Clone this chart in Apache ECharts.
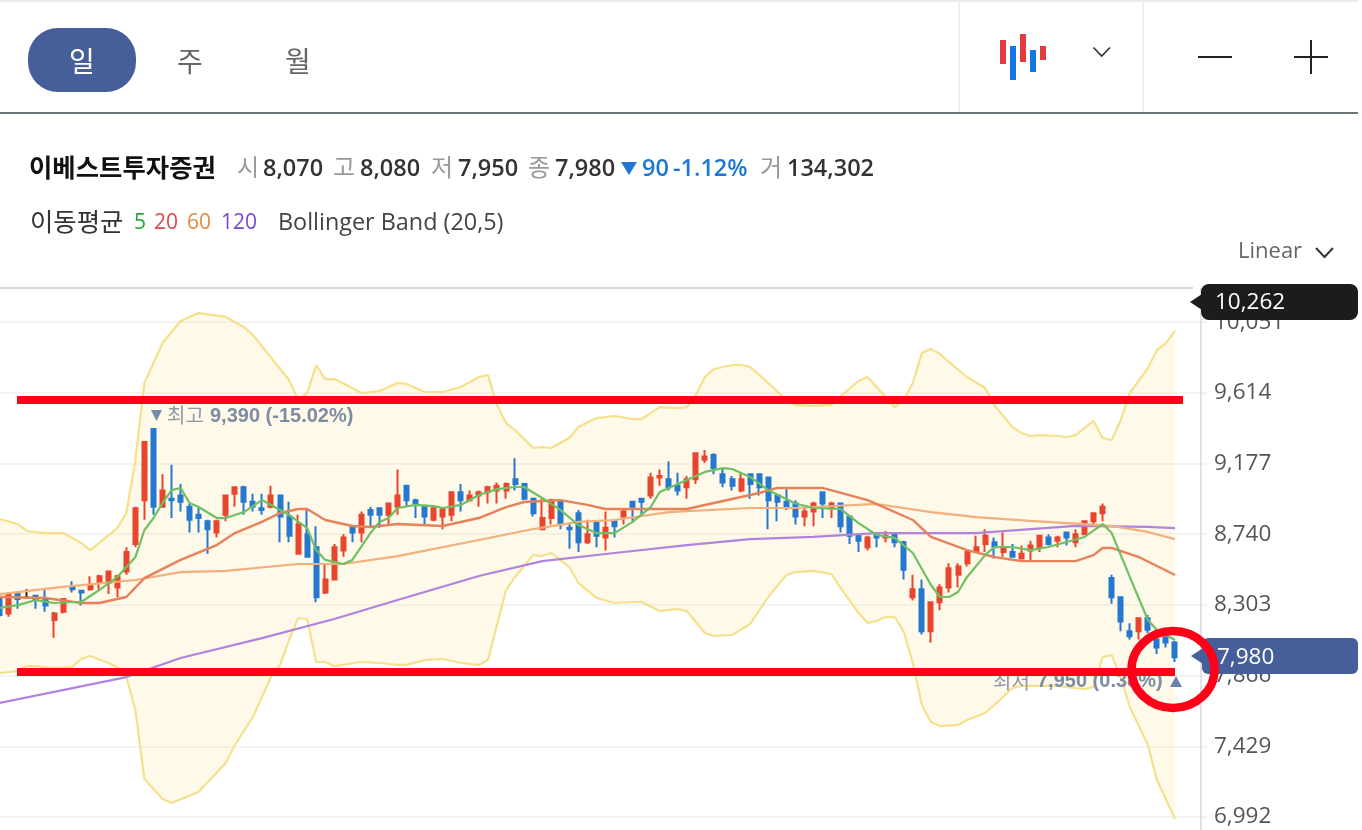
<!DOCTYPE html>
<html lang="ko">
<head>
<meta charset="utf-8">
<title>이베스트투자증권 일봉</title>
<script src="https://cdn.jsdelivr.net/npm/echarts@6/dist/echarts.min.js"></script>
<style>
  html, body { margin: 0; padding: 0; background: #fff; }
  #chart { width: 1362px; height: 830px; }
</style>
</head>
<body>
<div id="chart"></div>
<script>
// Daily candles, oldest first: [open, close, low, high]
const candles = [
  [8340,8240,8230,8350],[8250,8370,8230,8380],[8370,8340,8280,8380],[8350,8350,8340,8400],[8360,8340,8280,8360],
  [8340,8300,8260,8400],[8210,8250,8100,8260],[8260,8340,8250,8340],[8420,8400,8380,8450],[8390,8380,8300,8390],
  [8400,8420,8390,8480],[8440,8480,8400,8490],[8440,8510,8370,8510],[8410,8480,8350,8490],[8510,8630,8490,8660],
  [8680,8900,8660,8910],[8950,9310,8830,9310],[9390,8910,8860,9390],[8910,9010,8910,9110],[8960,8950,8840,9170],
  [8980,8940,8880,9050],[8910,8830,8750,8930],[8860,8840,8750,8910],[8820,8770,8620,8830],[8750,8820,8720,8830],
  [8860,8980,8820,8980],[8990,9030,8910,9030],[9030,8940,8860,9040],[8940,8910,8880,8990],[8900,8890,8860,8990],
  [8910,8980,8900,9040],[8980,8850,8690,8980],[8850,8730,8690,8940],[8620,8800,8620,8860],[8740,8600,8600,8890],
  [8660,8350,8320,8790],[8380,8460,8370,8560],[8460,8660,8460,8680],[8640,8720,8600,8740],[8780,8750,8690,8790],
  [8750,8860,8690,8880],[8890,8860,8790,8910],[8900,8860,8780,8900],[8860,8930,8800,8930],[8910,8980,8860,9140],
  [9040,8950,8910,9040],[8950,8930,8840,8960],[8910,8850,8800,8910],[8830,8900,8820,8910],[8850,8900,8770,8900],
  [8860,9000,8820,9000],[9000,8950,8880,9050],[8950,8980,8940,9010],[8980,9000,8910,9010],[9000,9030,8930,9040],
  [9010,9040,8930,9060],[9010,9050,8960,9060],[9080,9050,9010,9210],[9050,8960,8950,9050],[8960,8870,8850,8960],
  [8770,8840,8770,8960],[8840,8950,8800,8960],[8940,8800,8770,8940],[8780,8770,8650,8810],[8870,8690,8630,8890],
  [8690,8740,8680,8830],[8810,8730,8660,8820],[8720,8780,8640,8880],[8820,8790,8720,8830],[8850,8880,8800,8900],
  [8940,8910,8820,8940],[8960,8940,8850,8960],[8980,9090,8960,9120],[9090,9100,9040,9140],[9080,9030,9010,9190],
  [9040,9010,8980,9120],[9030,9080,8960,9100],[9080,9240,9050,9240],[9200,9220,9180,9260],[9230,9150,9110,9240],
  [9110,9060,9030,9150],[9080,9040,9010,9100],[9010,9080,9000,9120],[9110,9050,8960,9110],[9110,9030,8980,9110],
  [9090,8950,8770,9090],[8980,8940,8820,8980],[8940,8910,8890,9030],[8930,8850,8800,8950],[8850,8880,8790,8910],
  [8880,8930,8790,8940],[9000,8930,8840,9000],[8900,8930,8840,8940],[8930,8790,8750,8930],[8850,8730,8680,8850],
  [8730,8700,8630,8730],[8660,8720,8640,8730],[8740,8720,8660,8740],[8720,8730,8690,8760],[8740,8690,8660,8750],
  [8690,8520,8460,8700],[8350,8400,8330,8490],[8400,8140,8120,8460],[8140,8320,8070,8320],[8320,8410,8270,8430],
  [8410,8530,8380,8560],[8490,8540,8410,8560],[8560,8630,8540,8640],[8630,8660,8630,8730],[8680,8730,8630,8770],
  [8690,8660,8590,8720],[8630,8660,8600,8750],[8630,8600,8600,8680],[8590,8620,8590,8670],[8640,8670,8580,8700],
  [8660,8730,8630,8730],[8720,8680,8670,8740],[8700,8720,8660,8730],[8750,8720,8670,8750],[8690,8740,8660,8770],
  [8740,8820,8740,8820],[8820,8870,8800,8870],[8870,8910,8820,8930],[8470,8350,8310,8490],[8350,8200,8140,8350],
  [8140,8110,8090,8190],[8140,8220,8090,8220],[8220,8150,8130,8240],[8090,8040,8000,8100],[8100,8070,8040,8120],
  [8070,7980,7950,8080]
];

// Moving averages and Bollinger edges as [candle index, price]
const ma5 = [[0,8284],[2,8302],[4,8333],[6,8315],[8,8321],[9,8321],[11,8395],[13,8476],[15,8599],[16,8766],[17,8840],[18,8933],[19,9013],[20,9026],[21,8933],[22,8908],[24,8840],[25,8840],[27,8877],[29,8951],[31,8890],[32,8859],[34,8778],[35,8642],[36,8581],[38,8556],[39,8581],[41,8747],[42,8816],[43,8840],[44,8902],[46,8921],[48,8914],[49,8902],[51,8921],[53,8982],[55,9019],[57,9032],[58,9032],[60,8964],[62,8890],[64,8797],[66,8747],[68,8747],[70,8816],[72,8908],[73,9001],[76,9075],[78,9125],[80,9149],[81,9143],[83,9094],[85,9013],[88,8930],[90,8902],[93,8896],[95,8809],[97,8735],[99,8717],[101,8624],[103,8426],[104,8352],[105,8352],[106,8383],[107,8476],[109,8611],[110,8661],[112,8661],[114,8642],[116,8661],[118,8692],[120,8723],[122,8803],[123,8747],[125,8476],[127,8210],[128,8148],[130,8086]];
const ma20 = [[0,8352],[5,8346],[9,8315],[11,8315],[14,8352],[16,8469],[20,8581],[24,8673],[26,8747],[29,8816],[31,8871],[33,8896],[34,8896],[36,8828],[39,8791],[41,8785],[44,8803],[49,8791],[53,8840],[56,8908],[58,8939],[62,8951],[65,8921],[67,8896],[71,8896],[76,8896],[79,8933],[84,8995],[86,9026],[91,9026],[96,8951],[101,8828],[103,8723],[107,8642],[110,8599],[113,8574],[119,8574],[121,8611],[122,8655],[123,8655],[126,8599],[130,8488]];
const ma60 = [[0,8370],[7,8414],[15,8457],[20,8506],[25,8513],[33,8556],[38,8556],[44,8605],[53,8704],[59,8772],[64,8816],[68,8828],[74,8877],[83,8902],[88,8902],[97,8927],[103,8877],[108,8846],[114,8822],[123,8791],[127,8754],[130,8710]];
const ma120 = [[0,7697],[6,7765],[14,7857],[20,7975],[29,8098],[37,8216],[44,8333],[53,8482],[60,8574],[68,8624],[76,8673],[83,8710],[90,8723],[97,8747],[108,8747],[119,8791],[127,8785],[130,8778]];
const bandUpper = [[0,8834],[2,8803],[3,8760],[5,8747],[7,8747],[9,8686],[10,8642],[11,8686],[13,8778],[14,8871],[15,9199],[16,9675],[18,9922],[20,10058],[22,10107],[25,10083],[27,10021],[28,9971],[32,9693],[33,9570],[34,9613],[35,9786],[36,9699],[37,9699],[39,9644],[40,9613],[42,9625],[44,9675],[45,9669],[47,9619],[49,9619],[51,9650],[53,9712],[54,9724],[55,9539],[56,9427],[57,9384],[59,9273],[60,9279],[61,9273],[63,9335],[64,9403],[66,9458],[68,9471],[70,9452],[71,9452],[73,9526],[75,9520],[76,9526],[77,9601],[78,9712],[79,9761],[81,9786],[82,9786],[83,9774],[85,9675],[87,9570],[88,9539],[90,9533],[92,9539],[93,9594],[95,9687],[96,9712],[97,9650],[99,9526],[100,9570],[101,9675],[102,9860],[103,9885],[104,9854],[105,9804],[107,9712],[109,9644],[110,9539],[112,9403],[113,9366],[114,9347],[115,9353],[117,9347],[118,9341],[119,9353],[121,9440],[122,9335],[123,9322],[124,9446],[125,9613],[127,9767],[128,9879],[129,9922],[130,9996]];
const bandLower = [[0,7882],[2,7894],[3,7925],[4,7925],[6,7913],[8,7919],[9,7969],[10,7987],[12,7944],[13,7919],[14,7857],[15,7653],[16,7227],[18,7103],[19,7079],[22,7147],[23,7208],[25,7326],[26,7437],[28,7610],[30,7857],[31,7932],[32,8086],[33,8222],[34,8216],[35,7950],[36,7950],[37,7925],[40,7950],[42,7944],[44,7932],[45,7932],[47,7962],[49,7969],[51,7944],[53,7932],[54,7962],[56,8395],[57,8476],[59,8611],[60,8605],[61,8624],[63,8537],[64,8438],[66,8346],[68,8315],[70,8321],[71,8321],[73,8265],[75,8278],[76,8265],[78,8129],[79,8111],[81,8117],[83,8185],[85,8352],[87,8488],[88,8506],[90,8513],[92,8494],[93,8408],[95,8253],[96,8191],[97,8204],[98,8228],[99,8228],[100,8136],[101,7944],[102,7684],[103,7579],[104,7554],[106,7561],[107,7592],[109,7635],[111,7734],[112,7789],[113,7802],[115,7802],[117,7802],[120,7783],[121,7796],[122,7981],[123,7993],[124,7857],[125,7672],[127,7437],[128,7221],[130,6980]];

// Price axis: labelled every 437 won; the top of the pane is the 10,262 ceiling
const axisFloor = 6555;
const axisCeil = 10262;
const axisStep = 437;

// Header strings
const periodTabs = ['일', '주', '월'];
const stockName = '이베스트투자증권';
const quoteLabels = ['시', '고', '저', '종'];
const quoteValues = ['8,070', '8,080', '7,950', '7,980'];
const changeText = ['90', '-1.12%'];
const volumeLabel = '거';
const volumeText = '134,302';
const maTitle = '이동평균';
const maPeriods = ['5', '20', '60', '120'];
const bandTitle = 'Bollinger Band (20,5)';
const scaleName = 'Linear';
const highNote = ['최고', '9,390 (-15.02%)'];
const lowNote = ['최저', '7,950 (0.38%)'];
const ceilTag = '10,262';
const lastTag = '7,980';

const LATIN = '"Open Sans","Noto Sans CJK KR",sans-serif';
const HANGUL = '"Noto Sans CJK KR",sans-serif';
const NARROW = '"Liberation Sans",sans-serif';

function txt(x, y, text, font, fill, align) {
  return { type: 'text', x, y, z: 100, silent: true,
    style: { text, font, fill, align: align || 'left', verticalAlign: 'middle' } };
}
function box(x, y, width, height, fill, r) {
  return { type: 'rect', z: 100, silent: true, shape: { x, y, width, height, r: r || 0 }, style: { fill } };
}
function poly(points, fill) {
  return { type: 'polygon', z: 100, silent: true, shape: { points }, style: { fill } };
}
function chevron(points, color, width) {
  return { type: 'polyline', z: 100, silent: true, shape: { points },
    style: { stroke: color, lineWidth: width, fill: null } };
}

const decorations = [
  // toolbar frame
  box(0, 0, 1358, 2, '#ececec'),
  box(0, 112, 1358, 2, '#6b7478'),
  box(958, 2, 2, 110, '#eef0f2'),
  box(1142, 2, 2, 110, '#eef0f2'),
  // period tabs
  box(28, 28, 108, 64, '#465f9b', 30),
  txt(82, 61, periodTabs[0], '28px ' + HANGUL, '#ffffff', 'center'),
  txt(190, 61, periodTabs[1], '28px ' + HANGUL, '#666666', 'center'),
  txt(298, 61, periodTabs[2], '28px ' + HANGUL, '#666666', 'center'),
  // chart type icon
  box(1000, 40, 6, 24, '#e53b3f'),
  box(1010, 46, 6, 34, '#1676e6'),
  box(1020, 34, 6, 28, '#e53b3f'),
  box(1030, 50, 6, 22, '#1676e6'),
  box(1040, 46, 6, 14, '#e53b3f'),
  chevron([[1093.5, 47.5], [1101.7, 56], [1110, 47.5]], '#333333', 1.7),
  // zoom buttons
  box(1198, 56, 34, 2, '#222222'),
  box(1294, 56, 34, 2, '#222222'),
  box(1310, 40, 2, 34, '#222222'),
  // quote line
  txt(29, 167, stockName, '700 25.4px ' + HANGUL, '#111111'),
  txt(237, 167, quoteLabels[0], '24px ' + HANGUL, '#999999'),
  txt(263, 169, quoteValues[0], '600 23.5px ' + LATIN, '#333333'),
  txt(333, 167, quoteLabels[1], '24px ' + HANGUL, '#999999'),
  txt(360, 169, quoteValues[1], '600 23.5px ' + LATIN, '#333333'),
  txt(431, 167, quoteLabels[2], '24px ' + HANGUL, '#999999'),
  txt(458, 169, quoteValues[2], '600 23.5px ' + LATIN, '#333333'),
  txt(528, 167, quoteLabels[3], '24px ' + HANGUL, '#999999'),
  txt(555, 169, quoteValues[3], '600 23.5px ' + LATIN, '#333333'),
  poly([[621, 162], [637, 162], [629, 175]], '#1e78d2'),
  txt(642, 169, changeText[0], '600 23.5px ' + LATIN, '#1e78d2'),
  txt(673, 169, changeText[1], '600 23.5px ' + LATIN, '#1e78d2'),
  txt(760, 167, volumeLabel, '24px ' + HANGUL, '#999999'),
  txt(787, 169, volumeText, '600 23.5px ' + LATIN, '#333333'),
  // indicator legend
  txt(30, 221, maTitle, '25.4px ' + HANGUL, '#333333'),
  txt(134, 223, maPeriods[0], '21px ' + LATIN, '#22a535'),
  txt(154, 223, maPeriods[1], '21px ' + LATIN, '#e0464c'),
  txt(187, 223, maPeriods[2], '21px ' + LATIN, '#df8a3f'),
  txt(221, 223, maPeriods[3], '21px ' + LATIN, '#7b45d1'),
  txt(278, 223, bandTitle, '23.4px ' + LATIN, '#444444'),
  txt(1238, 252, scaleName, '22px ' + LATIN, '#666666'),
  chevron([[1316, 248], [1324.5, 257], [1333, 248]], '#333333', 1.9),
  // pane top edge
  box(0, 287, 1193, 2, '#d6dadc'),
  // highest and lowest notes
  poly([[151, 410], [162, 410], [156.5, 421]], '#7689a8'),
  txt(167, 415, highNote[0], '20px ' + HANGUL, '#8e98a8'),
  txt(210, 416, highNote[1], '700 20px ' + NARROW, '#7d8ca5'),
  txt(993, 681, lowNote[0], '20px ' + HANGUL, '#8e98a8'),
  txt(1037, 681, lowNote[1], '700 20px ' + NARROW, '#7d8ca5'),
  poly([[1170, 687], [1182, 687], [1176, 676]], '#6a80b0'),
  // price tags on the axis
  poly([[1190, 302], [1202, 294], [1202, 310]], '#1c1c1c'),
  box(1201, 284, 157, 36, '#1c1c1c', 8),
  txt(1215, 303, ceilTag, '22.5px ' + LATIN, '#ffffff'),
  poly([[1191, 656], [1203, 648], [1203, 664]], '#465f9b'),
  box(1202, 638, 156, 36, '#465f9b', 6),
  txt(1217, 658, lastTag, '22.5px ' + LATIN, '#ffffff'),
  // hand-drawn support and resistance marks
  { type: 'rect', z: 110, silent: true, shape: { x: 17, y: 396, width: 1166, height: 8 }, style: { fill: '#ff0019' } },
  { type: 'rect', z: 110, silent: true, shape: { x: 17, y: 668, width: 1158, height: 8 }, style: { fill: '#ff0019' } },
  { type: 'ellipse', z: 110, silent: true, shape: { cx: 1173, cy: 669.5, rx: 41.5, ry: 38.5 },
    style: { fill: null, stroke: '#ff0019', lineWidth: 8.5 } }
];

function curve(points, color, smooth, width) {
  return { type: 'line', data: points, showSymbol: false, silent: true, smooth, smoothMonotone: 'x',
    lineStyle: { color, width }, itemStyle: { color }, clip: false, z: 5 };
}

const chart = echarts.init(document.getElementById('chart'));
chart.setOption({
  animation: false,
  backgroundColor: '#ffffff',
  // candles sit 9.04 px apart, with three empty slots before the price axis;
  // the pane runs past the bottom and left of the page
  grid: { left: -4.72, top: 288, width: 1211.36, height: 599.7, containLabel: false, outerBoundsMode: 'none' },
  xAxis: {
    type: 'category',
    data: candles.map((_, i) => i).concat(['', '', '']),
    boundaryGap: true,
    axisLine: { show: false }, axisTick: { show: false }, axisLabel: { show: false }, splitLine: { show: false }
  },
  yAxis: {
    type: 'value', position: 'right', offset: -5.64,
    min: axisFloor, max: axisCeil, interval: axisStep,
    axisLine: { show: true, onZero: false, lineStyle: { color: '#d3d9e0', width: 1.5 } },
    axisTick: { show: false },
    axisLabel: {
      margin: 13, showMaxLabel: false, color: '#555555', fontSize: 22.5, fontFamily: LATIN,
      formatter: v => v.toLocaleString('en-US')
    },
    splitLine: { show: true, showMaxLine: false, lineStyle: { color: '#f3f3f3', width: 2 } }
  },
  graphic: { elements: decorations },
  series: [
    {
      // shaded channel between the two Bollinger edges
      type: 'custom', silent: true, clip: false, z: 1,
      data: [[0, bandUpper[0][1]]],
      renderItem(params, api) {
        const outline = bandUpper.concat(bandLower.slice().reverse()).map(p => api.coord(p));
        return { type: 'polygon', shape: { points: outline }, style: { fill: 'rgba(252,226,140,0.2)' } };
      }
    },
    curve(bandUpper, '#f6e08c', false, 2.2),
    curve(bandLower, '#f6e08c', false, 2.2),
    {
      type: 'candlestick', data: candles, barWidth: 4.5, silent: true, clip: false, z: 3,
      itemStyle: {
        color: '#e8452f', color0: '#2479cf', borderColor: '#e8452f', borderColor0: '#2479cf',
        borderColorDoji: '#222222', borderWidth: 2
      }
    },
    curve(ma120, '#b183de', false, 2.2),
    curve(ma60, '#f1b07c', false, 2.2),
    curve(ma20, '#e5825a', false, 2.4),
    curve(ma5, '#6fc062', false, 2.2)
  ]
});
</script>
</body>
</html>
